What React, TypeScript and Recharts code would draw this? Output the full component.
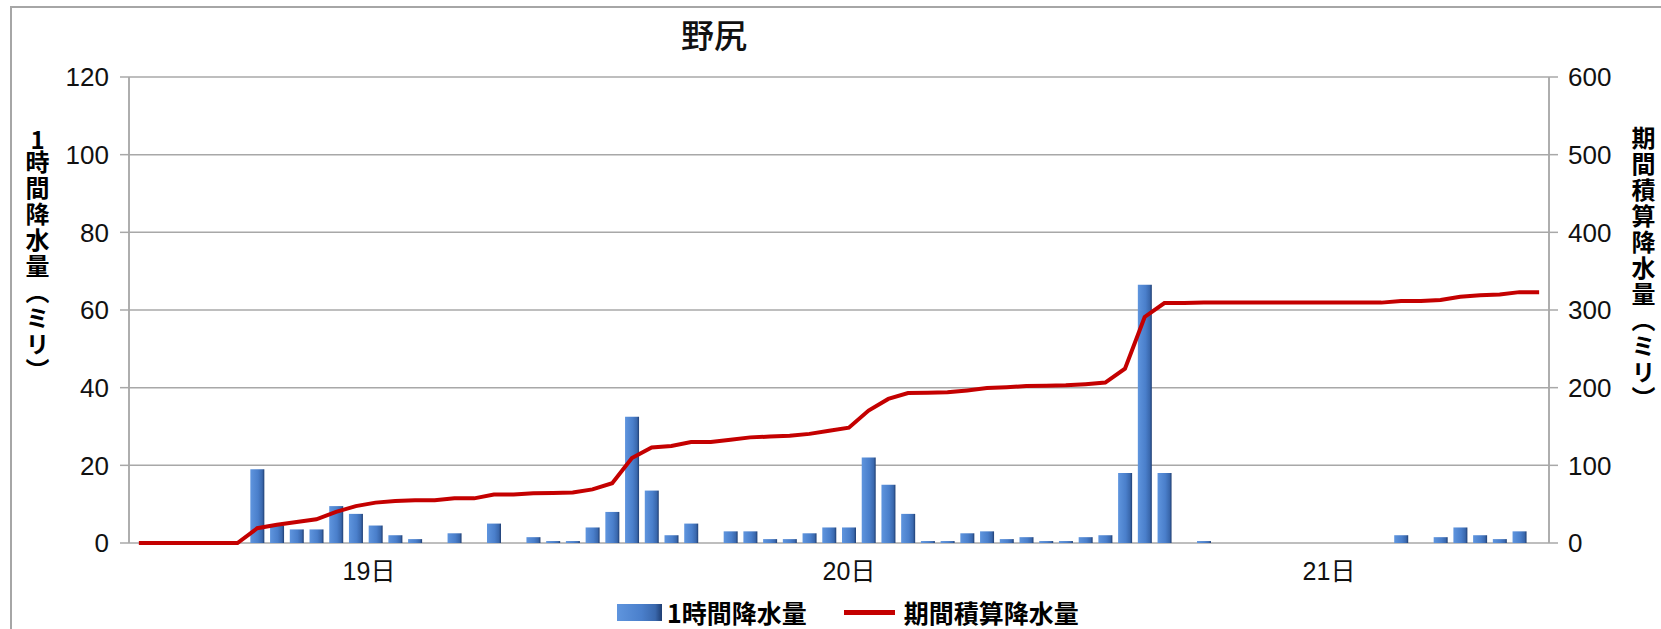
import React from "react";
import {
  ComposedChart,
  Bar,
  Line,
  XAxis,
  YAxis,
  CartesianGrid,
} from "recharts";

const DAYS = ["19日", "20日", "21日"];

// hourly slots: 24 per day, 1..24時
const HOURS = DAYS.flatMap((d) =>
  Array.from({ length: 24 }, (_, h) => `${d}${h + 1}時`)
);

// 1時間降水量 (mm)
const HOURLY = [
  0, 0, 0, 0, 0, 0, 19, 4.5, 3.5, 3.5, 9.5, 7.5, 4.5, 2, 1, 0, 2.5, 0, 5, 0, 1.5, 0.5, 0.5, 4,
  8, 32.5, 13.5, 2, 5, 0, 3, 3, 1, 1, 2.5, 4, 4, 22, 15, 7.5, 0.5, 0.5, 2.5, 3, 1, 1.5, 0.5, 0.5,
  1.5, 2, 18, 66.5, 18, 0, 0.5, 0, 0, 0, 0, 0, 0, 0, 0, 0, 2, 0, 1.5, 4, 2, 1, 3, 0,
];

// 期間積算降水量 (mm)
const TOTAL = [
  0, 0, 0, 0, 0, 0, 19, 23.5, 27, 30.5, 40, 47.5, 52, 54, 55, 55, 57.5, 57.5, 62.5, 62.5, 64, 64.5, 65, 69,
  77, 109.5, 123, 125, 130, 130, 133, 136, 137, 138, 140.5, 144.5, 148.5, 170.5, 185.5, 193, 193.5, 194, 196.5, 199.5, 200.5, 202, 202.5, 203,
  204.5, 206.5, 224.5, 291, 309, 309, 309.5, 309.5, 309.5, 309.5, 309.5, 309.5, 309.5, 309.5, 309.5, 309.5, 311.5, 311.5, 313, 317, 319, 320, 323, 323,
];

const LEFT_TICKS = [0, 20, 40, 60, 80, 100, 120];
const RIGHT_TICKS = [0, 100, 200, 300, 400, 500, 600];
const DAY_EDGES = [0, 24, 48, 72];
const DAY_MIDS = [12, 36, 60];

const data = HOURS.map((hour, i) => ({
  hour,
  rain: HOURLY[i],
  total: TOTAL[i],
}));

const GRID = "#a8a8a8";
const NUM_FONT = "'Liberation Sans', Arial, 'Noto Sans CJK JP', sans-serif";
const JP_FONT = "'Noto Sans CJK JP', 'Liberation Sans', sans-serif";

const tickStyle = { fill: "#111", fontSize: 26, fontFamily: NUM_FONT };

const vTitle: React.CSSProperties = {
  position: "absolute",
  top: 126,
  writingMode: "vertical-rl",
  textOrientation: "mixed",
  fontFamily: JP_FONT,
  fontSize: 24,
  fontWeight: 700,
  letterSpacing: 2,
  lineHeight: "26px",
  color: "#000",
};

export default function App() {
  return (
    <div
      style={{
        position: "fixed",
        left: 0,
        top: 0,
        width: 1661,
        height: 629,
        overflow: "hidden",
        background: "#fff",
      }}
    >
      {/* outer frame */}
      <div
        style={{
          position: "absolute",
          left: 10,
          top: 6,
          width: 1720,
          height: 700,
          border: "2px solid #a6a6a6",
        }}
      />

      {/* title */}
      <div
        style={{
          position: "absolute",
          left: 614,
          top: 12,
          width: 200,
          textAlign: "center",
          fontFamily: JP_FONT,
          fontSize: 33,
          fontWeight: 500,
          lineHeight: "44px",
          color: "#111",
        }}
      >
        野尻
      </div>

      {/* axis titles */}
      <div style={{ ...vTitle, left: 24 }}>
        <span style={{ textCombineUpright: "all" }}>1</span>時間降水量（ミリ）
      </div>
      <div style={{ ...vTitle, left: 1630 }}>期間積算降水量（ミリ）</div>

      <ComposedChart
        width={1661}
        height={629}
        data={data}
        margin={{ top: 77, right: 0, bottom: 46, left: 0 }}
        style={{ position: "absolute", left: 0, top: 0 }}
      >
        <defs>
          <linearGradient id="barGrad" x1="0" y1="0" x2="1" y2="0">
            <stop offset="0%" stopColor="#5f95de" />
            <stop offset="55%" stopColor="#4a7fcb" />
            <stop offset="85%" stopColor="#3a68ad" />
            <stop offset="100%" stopColor="#1f3e72" />
          </linearGradient>
        </defs>
        <CartesianGrid
          xAxisId="day"
          yAxisId="left"
          stroke={GRID}
          strokeWidth={1.5}
        />
        <XAxis xAxisId="hour" dataKey="hour" type="category" hide />
        <XAxis
          xAxisId="day"
          type="number"
          domain={[0, 72]}
          ticks={DAY_EDGES}
          height={0}
          tick={false}
          tickSize={9}
          axisLine={{ stroke: GRID, strokeWidth: 1.5 }}
          tickLine={{ stroke: GRID, strokeWidth: 1.5 }}
        />
        <XAxis
          xAxisId="dayLabel"
          type="number"
          domain={[0, 72]}
          ticks={DAY_MIDS}
          height={40}
          axisLine={false}
          tickLine={false}
          tickSize={0}
          tickMargin={19}
          tick={{ fill: "#111", fontSize: 25, fontFamily: NUM_FONT }}
          tickFormatter={(v: number) => DAYS[Math.floor(v / 24)]}
        />
        <YAxis
          yAxisId="left"
          orientation="left"
          width={129}
          domain={[0, 120]}
          ticks={LEFT_TICKS}
          tickSize={9}
          tickMargin={11}
          tick={tickStyle}
          axisLine={{ stroke: GRID, strokeWidth: 1.5 }}
          tickLine={{ stroke: GRID, strokeWidth: 1.5 }}
        />
        <YAxis
          yAxisId="right"
          orientation="right"
          width={112}
          domain={[0, 600]}
          ticks={RIGHT_TICKS}
          tickSize={9}
          tickMargin={10}
          tick={tickStyle}
          axisLine={{ stroke: GRID, strokeWidth: 1.5 }}
          tickLine={{ stroke: GRID, strokeWidth: 1.5 }}
        />
        <Bar
          xAxisId="hour"
          yAxisId="left"
          dataKey="rain"
          name="1時間降水量"
          barSize={14}
          fill="url(#barGrad)"
          isAnimationActive={false}
        />
        <Line
          xAxisId="hour"
          yAxisId="right"
          dataKey="total"
          name="期間積算降水量"
          type="linear"
          stroke="#c40000"
          strokeWidth={4}
          dot={false}
          activeDot={false}
          isAnimationActive={false}
        />
      </ComposedChart>

      {/* legend */}
      <div
        style={{
          position: "absolute",
          left: 617,
          top: 597,
          height: 30,
          display: "flex",
          alignItems: "center",
          fontFamily: JP_FONT,
          fontSize: 25,
          fontWeight: 700,
          color: "#000",
          whiteSpace: "nowrap",
        }}
      >
        <span
          style={{
            display: "inline-block",
            width: 45,
            height: 17,
            background: "linear-gradient(to right, #5f95de, #4a7fcb 55%, #3a68ad 85%, #1f3e72)",
            marginRight: 5,
          }}
        />
        <span>1時間降水量</span>
        <span
          style={{
            display: "inline-block",
            width: 51,
            height: 5,
            background: "#c40000",
            marginLeft: 37,
            marginRight: 9,
          }}
        />
        <span>期間積算降水量</span>
      </div>
    </div>
  );
}
